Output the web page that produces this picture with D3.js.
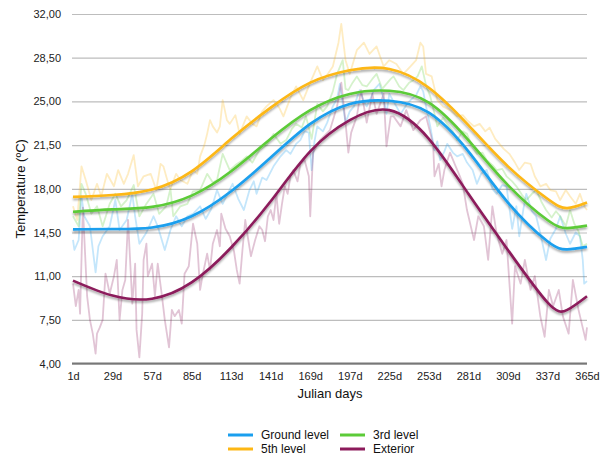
<!DOCTYPE html>
<html>
<head>
<meta charset="utf-8">
<script src="https://cdn.jsdelivr.net/npm/d3@7"></script>
<style>
  body { margin: 0; background: #fff; }
  text { font-family: "Helvetica Neue", Helvetica, "Liberation Sans", Arial, sans-serif; }
</style>
</head>
<body>
<script>
// Tick labels
const dayTicks = [1, 29, 57, 85, 113, 141, 169, 197, 225, 253, 281, 309, 337, 365];
const tempTicks = [4, 7.5, 11, 14.5, 18, 21.5, 25, 28.5, 32];

// Daily readings [julian day, °C]
const groundDaily = [[1,13.9],[2,13.1],[5,13.9],[7,17.4],[9,15.8],[13,15.0],[17,11.3],[19,13.4],[22,14.2],[27,15.0],[31,17.1],[34,14.7],[39,15.5],[43,17.6],[45,15.8],[48,13.6],[53,14.5],[58,15.8],[61,15.0],[66,13.1],[70,14.7],[74,15.8],[78,15.0],[82,15.8],[86,16.0],[91,16.6],[95,15.6],[99,16.4],[103,17.9],[107,16.8],[110,17.5],[114,18.4],[118,17.2],[122,16.3],[126,17.9],[129,18.6],[131,17.6],[135,18.9],[138,18.7],[143,19.8],[148,20.6],[152,21.1],[155,20.8],[159,21.6],[162,21.9],[165,22.6],[168,22.5],[170,19.5],[172,21.8],[174,23.0],[178,22.6],[181,23.3],[185,24.6],[188,25.2],[190,26.4],[192,24.8],[194,23.3],[197,24.2],[200,24.6],[204,25.9],[207,25.0],[209,24.6],[212,25.3],[214,25.9],[218,26.4],[221,25.2],[223,24.0],[225,25.6],[229,24.8],[233,24.0],[237,24.7],[240,25.1],[244,25.5],[247,26.2],[249,25.8],[251,24.6],[254,23.0],[257,21.1],[259,21.8],[261,20.3],[264,21.0],[266,21.6],[270,20.9],[273,20.6],[277,20.8],[280,20.1],[284,19.5],[287,18.4],[290,19.2],[294,19.5],[298,18.0],[301,17.6],[305,18.3],[308,18.2],[312,14.8],[315,16.6],[317,14.2],[320,16.4],[322,17.6],[326,16.2],[329,15.8],[332,14.4],[336,12.3],[339,14.0],[343,14.8],[346,15.8],[350,14.4],[353,13.6],[357,14.5],[360,14.2],[362,12.3],[363,10.4],[365,10.6]];
const thirdDaily = [[1,15.8],[5,15.0],[7,18.4],[10,17.6],[14,16.0],[18,16.6],[22,15.0],[27,16.8],[31,17.6],[35,16.6],[39,17.1],[44,18.3],[48,15.8],[53,16.8],[58,17.6],[62,16.0],[67,16.6],[70,18.0],[72,15.8],[77,16.6],[82,16.8],[86,17.8],[91,17.9],[96,19.2],[100,18.5],[103,18.7],[107,20.8],[112,19.5],[116,19.9],[120,20.2],[124,20.6],[128,20.1],[133,21.1],[138,21.5],[143,22.4],[148,21.6],[152,21.9],[156,22.8],[159,23.2],[163,22.9],[166,23.8],[170,22.0],[174,24.8],[178,24.2],[181,24.6],[185,25.8],[188,27.2],[192,28.3],[194,26.0],[196,25.9],[199,26.5],[202,27.0],[206,26.3],[209,26.2],[213,26.8],[216,27.2],[220,26.0],[223,26.4],[226,26.8],[228,27.0],[232,26.2],[235,25.9],[239,26.5],[242,26.7],[245,27.0],[248,27.8],[251,26.3],[254,25.4],[257,24.0],[259,23.0],[263,23.7],[266,23.2],[270,22.6],[273,21.9],[277,22.6],[280,22.4],[284,21.3],[287,20.8],[291,20.9],[294,20.3],[298,19.9],[301,19.5],[305,19.6],[308,19.0],[312,18.6],[315,18.2],[319,17.5],[322,17.1],[326,17.6],[329,17.9],[333,16.9],[336,16.3],[340,15.7],[343,16.2],[346,15.8],[350,15.0],[353,16.3],[356,15.2],[359,14.6],[362,13.4],[365,13.6]];
const fifthDaily = [[1,16.6],[4,15.5],[7,19.8],[10,18.7],[14,17.1],[18,18.4],[21,17.4],[25,19.2],[30,18.2],[33,19.5],[37,18.4],[40,19.2],[44,20.7],[47,18.2],[51,19.0],[56,19.2],[60,17.9],[63,20.0],[65,19.8],[69,18.2],[70,18.0],[74,19.2],[77,18.7],[82,18.4],[86,19.5],[89,19.2],[91,20.6],[94,21.5],[96,22.4],[98,23.5],[100,23.0],[103,22.5],[105,23.0],[107,25.1],[110,23.5],[112,23.2],[116,23.9],[119,22.4],[124,23.8],[128,23.2],[131,23.0],[135,24.2],[138,24.6],[143,25.1],[147,24.5],[150,23.8],[155,25.3],[159,26.2],[164,25.1],[169,26.5],[174,27.8],[178,26.7],[182,27.3],[185,27.8],[189,29.7],[191,31.2],[194,28.3],[197,27.2],[202,29.1],[207,29.7],[211,28.8],[216,29.4],[221,27.8],[225,28.3],[230,28.0],[235,27.2],[240,27.8],[244,28.3],[247,29.7],[249,29.4],[251,27.2],[255,27.0],[259,25.1],[263,24.6],[268,24.3],[273,23.8],[277,23.9],[280,23.5],[285,23.0],[289,23.2],[293,22.6],[296,22.9],[300,22.0],[303,21.6],[306,21.2],[310,20.8],[314,20.1],[317,19.5],[321,20.1],[325,20.0],[328,19.0],[332,18.2],[336,18.4],[339,17.9],[343,17.8],[346,17.1],[350,17.9],[353,17.4],[357,16.8],[360,17.6],[363,16.6],[365,16.3]];
const exteriorDaily = [[1,10.4],[3,8.6],[5,9.9],[6,8.0],[8,16.5],[11,9.4],[13,7.5],[15,6.4],[17,4.8],[18,6.4],[20,6.9],[22,7.5],[24,11.2],[25,10.7],[27,9.6],[30,11.0],[32,12.3],[34,7.5],[36,9.9],[38,10.7],[40,15.5],[43,8.8],[45,12.0],[46,6.7],[48,4.5],[50,8.0],[51,12.3],[53,13.6],[54,11.0],[57,12.0],[59,9.4],[61,12.0],[64,9.4],[66,7.5],[69,5.3],[71,8.3],[73,7.8],[76,8.3],[78,7.2],[80,11.2],[83,11.8],[86,15.2],[89,13.6],[91,9.9],[93,11.2],[96,12.8],[98,11.5],[100,13.6],[103,14.7],[105,13.4],[106,16.0],[109,14.8],[112,14.2],[115,13.0],[117,11.5],[119,10.4],[121,13.1],[123,15.5],[125,14.0],[127,12.6],[130,13.9],[133,15.0],[135,14.7],[137,13.8],[139,15.8],[141,16.3],[143,15.5],[145,17.6],[147,15.2],[149,16.8],[151,18.2],[153,17.6],[155,19.0],[157,19.5],[160,18.6],[162,20.0],[165,20.3],[168,19.0],[169,15.8],[171,20.9],[176,21.9],[183,22.7],[188,24.6],[191,26.5],[194,23.3],[196,20.9],[198,22.5],[202,23.8],[205,25.9],[209,23.3],[213,25.6],[216,24.0],[221,25.6],[223,21.4],[226,23.8],[228,23.8],[233,23.0],[237,24.3],[242,22.7],[247,23.5],[251,23.8],[256,21.6],[257,19.0],[260,20.0],[262,18.2],[264,19.5],[268,20.9],[272,19.8],[275,19.0],[277,18.4],[280,16.3],[285,13.9],[288,15.8],[292,15.0],[295,12.3],[298,16.6],[301,14.4],[305,12.8],[308,13.9],[312,7.2],[314,11.8],[318,10.4],[321,12.3],[325,9.9],[328,11.0],[332,7.75],[335,6.15],[338,9.9],[341,8.6],[345,9.9],[348,7.75],[352,6.4],[355,10.7],[359,8.3],[364,5.9],[365,6.9]];

// Trend curves [julian day, °C]
const groundTrend = [[1,14.75],[29,14.78],[57,14.9],[85,15.8],[113,17.8],[141,20.5],[169,23.2],[197,24.8],[225,25.05],[253,24.1],[281,21.0],[309,16.9],[337,13.8],[351,13.15],[365,13.35]];
const thirdTrend = [[1,16.15],[29,16.35],[57,16.55],[85,17.45],[113,19.4],[141,22.0],[169,24.3],[197,25.6],[225,25.85],[253,24.9],[281,21.9],[309,18.3],[337,15.5],[351,14.85],[365,15.05]];
const fifthTrend = [[1,17.35],[29,17.5],[57,17.95],[85,19.4],[113,22.0],[141,24.5],[169,26.5],[197,27.5],[225,27.6],[253,26.1],[281,23.1],[309,19.8],[337,17.2],[351,16.45],[365,16.9]];
const exteriorTrend = [[1,10.65],[29,9.45],[57,9.2],[85,10.5],[113,13.3],[141,17.0],[169,21.0],[197,23.5],[225,24.3],[253,22.0],[281,17.6],[309,13.1],[337,8.9],[351,8.3],[365,9.4]];

const seriesNames = ["Ground level", "3rd level", "5th level", "Exterior"];
const seriesColors = ["#1a9fee", "#5ccb38", "#fdb714", "#8c1b5b"];
const dailyData = [groundDaily, thirdDaily, fifthDaily, exteriorDaily];
const trendData = [groundTrend, thirdTrend, fifthTrend, exteriorTrend];

const width = 605, height = 456;
const margin = { top: 14, right: 18, bottom: 92.4, left: 73 };

const svg = d3.select('body').append('svg')
    .attr('width', width)
    .attr('height', height);

const defs = svg.append('defs');
defs.append('filter')
    .attr('id', 'shadow')
    .attr('x', '-5%').attr('y', '-10%').attr('width', '110%').attr('height', '130%')
    .append('feDropShadow')
    .attr('dx', 0).attr('dy', 2)
    .attr('stdDeviation', 1.3)
    .attr('flood-color', '#000')
    .attr('flood-opacity', 0.35);

const x = d3.scaleLinear().domain([1, 365]).range([margin.left, width - margin.right]);
const y = d3.scaleLinear().domain([4, 32]).range([height - margin.bottom, margin.top]);

const commaFmt = d3.formatLocale({ decimal: ",", thousands: ".", grouping: [3], currency: ["", ""] }).format(".2f");

// Gridlines + y labels
const yAxis = svg.append('g')
    .attr('transform', `translate(${margin.left - 1},0)`)
    .call(d3.axisLeft(y)
        .tickValues(tempTicks)
        .tickFormat(commaFmt)
        .tickSize(-(width - margin.left - margin.right + 1))
        .tickPadding(11));
yAxis.select('.domain').remove();
yAxis.selectAll('.tick line')
    .attr('stroke', '#bdbdbd')
    .attr('stroke-width', 1.2);
yAxis.selectAll('.tick text')
    .attr('fill', '#222')
    .style('font-size', '11px');

// X axis
const xAxis = svg.append('g')
    .attr('transform', `translate(0,${height - margin.bottom})`)
    .call(d3.axisBottom(x)
        .tickValues(dayTicks)
        .tickFormat(d => d + 'd')
        .tickSize(0)
        .tickPadding(9));
xAxis.select('.domain')
    .attr('stroke', '#777')
    .attr('stroke-width', 2)
    .attr('d', `M${margin.left - 1},0H${width - margin.right}`);
xAxis.selectAll('.tick text')
    .attr('fill', '#222')
    .style('font-size', '11px');

// Daily lines (faded)
const dailyLine = d3.line().x(d => x(d[0])).y(d => y(d[1]));
svg.append('g')
    .selectAll('path')
    .data(dailyData)
    .join('path')
    .attr('d', dailyLine)
    .attr('fill', 'none')
    .attr('stroke', (d, i) => seriesColors[i])
    .attr('stroke-width', 1.8)
    .attr('stroke-linejoin', 'round')
    .attr('opacity', 0.26);

// Trend curves
const trendLine = d3.line().curve(d3.curveNatural).x(d => x(d[0])).y(d => y(d[1]));
svg.append('g')
    .selectAll('path')
    .data(trendData)
    .join('path')
    .attr('d', trendLine)
    .attr('fill', 'none')
    .attr('stroke', (d, i) => seriesColors[i])
    .attr('stroke-width', 2.6)
    .attr('filter', 'url(#shadow)');

// Axis titles
svg.append('text')
    .attr('x', (margin.left + width - margin.right) / 2)
    .attr('y', 398)
    .attr('text-anchor', 'middle')
    .attr('fill', '#111')
    .style('font-size', '13px')
    .text('Julian days');

svg.append('text')
    .attr('transform', `translate(25,${(margin.top + height - margin.bottom) / 2}) rotate(-90)`)
    .attr('text-anchor', 'middle')
    .attr('fill', '#111')
    .style('font-size', '13px')
    .text('Temperature (ºC)');

// Legend (row-wise, two columns)
const legend = svg.append('g');
seriesNames.forEach((name, i) => {
    const lx = i % 2 === 0 ? 228 : 340;
    const ly = i < 2 ? 435 : 449;
    legend.append('line')
        .attr('x1', lx).attr('x2', lx + 25)
        .attr('y1', ly).attr('y2', ly)
        .attr('stroke', seriesColors[i])
        .attr('stroke-width', 3);
    legend.append('text')
        .attr('x', lx + 33)
        .attr('y', ly + 4)
        .attr('fill', '#111')
        .style('font-size', '12px')
        .text(name);
});
</script>
</body>
</html>
